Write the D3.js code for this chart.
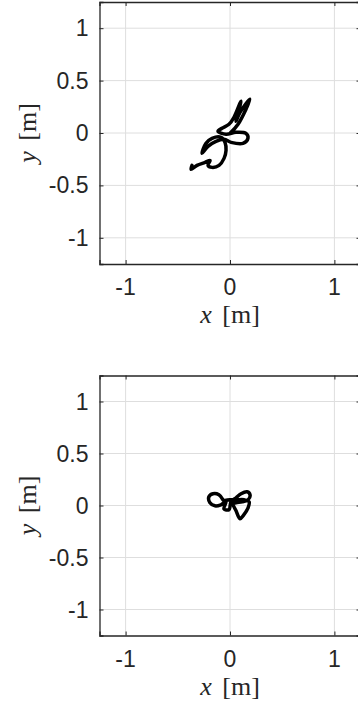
<!DOCTYPE html>
<html>
<head>
<meta charset="utf-8">
<script src="https://cdn.jsdelivr.net/npm/d3@7"></script>
<style>
  body { margin: 0; background: #fff; }
  svg { display: block; }
</style>
</head>
<body>
<svg id="chart"></svg>
<script>
// trajectory samples [x, y] in metres
const pathTop = [
  [-0.364, -0.309], [-0.373, -0.347], [-0.316, -0.309], [-0.239, -0.280], [-0.191, -0.261],
  [-0.211, -0.309], [-0.172, -0.328], [-0.105, -0.309], [-0.057, -0.242], [-0.038, -0.166],
  [-0.048, -0.089], [-0.086, -0.041], [-0.172, -0.051], [-0.230, -0.099], [-0.268, -0.194],
  [-0.211, -0.127], [-0.134, -0.079], [-0.057, -0.060], [0.010, -0.089], [0.124, -0.099],
  [0.172, -0.051], [0.153, -0.003], [0.057, 0.007], [-0.038, -0.012], [-0.115, 0.016],
  [-0.077, 0.045], [-0.010, 0.083], [0.038, 0.150], [0.105, 0.303], [0.057, 0.112],
  [0.096, 0.197], [0.191, 0.322], [0.077, 0.083], [0.000, -0.003]
];
const pathBottom = [
  [-0.067, 0.055], [-0.106, 0.103], [-0.163, 0.113], [-0.202, 0.084], [-0.192, 0.026],
  [-0.144, -0.003], [-0.087, 0.007], [-0.038, 0.036], [-0.058, -0.032], [-0.010, -0.041],
  [0.010, 0.036], [0.058, 0.074], [0.106, 0.113], [0.163, 0.132], [0.192, 0.103],
  [0.173, 0.055], [0.115, 0.036], [0.058, 0.026], [0.029, 0.016], [0.058, -0.051],
  [0.096, -0.128], [0.125, -0.099], [0.173, -0.022], [0.183, 0.036], [0.135, 0.055],
  [0.067, 0.055], [0.000, 0.055], [-0.058, 0.045]
];
const xTicks = [-1, 0, 1];
const yTicks = [-1, -0.5, 0, 0.5, 1];
const tickText = v => String(v);

const width = 358, height = 711;
const svg = d3.select('#chart').attr('width', width).attr('height', height);

const panels = [
  { data: pathTop, top: 2, h: 262 },
  { data: pathBottom, top: 375.5, h: 260 }
];

const left = 99.5, w = 261;

panels.forEach(p => {
  const x = d3.scaleLinear().domain([-1.25, 1.25]).range([left, left + w]);
  const y = d3.scaleLinear().domain([-1.25, 1.25]).range([p.top + p.h, p.top]);
  const g = svg.append('g');

  // grid
  g.selectAll('.gx').data(xTicks).enter().append('line')
    .attr('x1', d => x(d)).attr('x2', d => x(d))
    .attr('y1', p.top).attr('y2', p.top + p.h)
    .attr('stroke', '#dedede').attr('stroke-width', 1);
  g.selectAll('.gy').data(yTicks).enter().append('line')
    .attr('x1', left).attr('x2', left + w)
    .attr('y1', d => y(d)).attr('y2', d => y(d))
    .attr('stroke', '#dedede').attr('stroke-width', 1);

  // box with inward ticks
  const tk = 4;
  const bottomAxis = d3.axisBottom(x).tickValues(xTicks).tickSize(-tk).tickFormat('');
  const topAxis = d3.axisTop(x).tickValues(xTicks).tickSize(-tk).tickFormat('');
  const leftAxis = d3.axisLeft(y).tickValues(yTicks).tickSize(-tk).tickFormat('');
  const rightAxis = d3.axisRight(y).tickValues(yTicks).tickSize(-tk).tickFormat('');
  [[bottomAxis, `translate(0,${p.top + p.h})`], [topAxis, `translate(0,${p.top})`],
   [leftAxis, `translate(${left},0)`], [rightAxis, `translate(${left + w},0)`]].forEach(([ax, tr]) => {
    const a = g.append('g').attr('transform', tr).call(ax);
    a.select('.domain').attr('stroke', '#262626').attr('stroke-width', 1.3);
    a.selectAll('.tick line').attr('stroke', '#262626').attr('stroke-width', 1);
  });

  // tick labels
  g.selectAll('.lx').data(xTicks).enter().append('text')
    .attr('x', d => x(d)).attr('y', p.top + p.h + 31)
    .attr('text-anchor', 'middle')
    .style('font-family', '"Liberation Sans", Arial, sans-serif')
    .style('font-size', '23px').style('fill', '#262626')
    .text(tickText);
  g.selectAll('.ly').data(yTicks).enter().append('text')
    .attr('x', 88.5).attr('y', d => y(d) + 8)
    .attr('text-anchor', 'end')
    .style('font-family', '"Liberation Sans", Arial, sans-serif')
    .style('font-size', '23px').style('fill', '#262626')
    .text(tickText);

  // axis labels
  const xl = g.append('text')
    .attr('x', x(0)).attr('y', p.top + p.h + 59)
    .attr('text-anchor', 'middle')
    .style('font-family', '"Liberation Serif", "Times New Roman", serif')
    .style('font-size', '26px').style('fill', '#262626');
  xl.append('tspan').style('font-style', 'italic').text('x');
  xl.append('tspan').attr('dx', 4).text(' [m]');

  const yl = g.append('text')
    .attr('transform', `translate(36,${y(0)}) rotate(-90)`)
    .attr('text-anchor', 'middle')
    .style('font-family', '"Liberation Serif", "Times New Roman", serif')
    .style('font-size', '26px').style('fill', '#262626');
  yl.append('tspan').style('font-style', 'italic').text('y');
  yl.append('tspan').attr('dx', 4).text(' [m]');

  // trajectory
  const line = d3.line()
    .x(d => x(d[0]))
    .y(d => y(d[1]))
    .curve(d3.curveCatmullRom.alpha(0.5));
  g.append('path')
    .datum(p.data)
    .attr('fill', 'none')
    .attr('stroke', '#000')
    .attr('stroke-width', 3.5)
    .attr('stroke-linejoin', 'round')
    .attr('stroke-linecap', 'round')
    .attr('d', line);
});
</script>
</body>
</html>
